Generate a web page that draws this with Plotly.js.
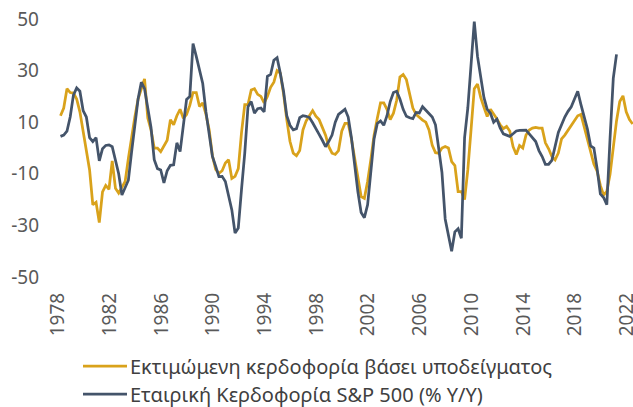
<!DOCTYPE html>
<html>
<head>
<meta charset="utf-8">
<script src="https://cdn.plot.ly/plotly-3.0.1.min.js"></script>
<style>
html,body{margin:0;padding:0;background:#fff;}
#chart{width:633px;height:407px;}
</style>
</head>
<body>
<div id="chart"></div>
<script>
// Quarterly series 1978Q1 onward, in plotting order
const seriesNames = [
  "Εκτιμώμενη κερδοφορία βάσει υποδείγματος",
  "Εταιρική Κερδοφορία S&P 500 (% Y/Y)"
];
const seriesColors = ['#D9A21B', '#44546A'];
const modelEstimate = [
  12.5,15.5,23,21.5,21.3,19,14,6,-1,-8.5,
  -22,-21,-28.9,-17,-14.5,-16,-5,-15.6,-17.5,-15,
  -13,-4,5,12,19,23,26.8,11.6,7,0,
  0,-1.4,0.8,3,11,9,12.5,15,11.5,13,
  16.5,21.5,21.5,16.1,17.5,13,7,-3,-8.3,-9.8,
  -8.8,-5.8,-4.5,-11.8,-11,-8,6,16.8,16.8,22.5,
  23,20.8,20,17.5,20,23.5,25.5,30,29,21,
  11,2.5,-2,-3,-1,7,10.5,12.5,14.5,12.3,
  11,8,5,0.5,-2,-2.5,-1,6.5,9.5,9.5,
  3.5,-4,-12,-18.8,-19.5,-13,-4.5,5,11.5,17.5,
  17.5,15,11,13.5,18.5,27.5,28.5,26.5,21,15.5,
  13,11.7,10.8,10,7,1,-1.8,-2,0,0.6,
  0,-5.3,-6.8,-16.9,-16.9,-20,-8.5,7,23,24.8,
  19.5,15.8,12.2,15,13.2,11.3,9,7.5,8.4,6.5,
  0.5,-2.5,1,0,5,7,7.7,8,7.7,7.7,
  2,-0.3,-3.3,-4.6,-2,3.5,5,7,8.8,10.5,
  12.5,13,8,3,-1,-6.2,-9,-14.5,-18.2,-16.8,
  -10.2,0,10.5,18,20.2,14,11,9.3
];
const sp500Earnings = [
  4.5,5,6.5,12,20.5,23.3,22,14.5,12,4,
  2.5,4,-5,-0.3,1,1.2,0.5,-4.5,-10,-18.2,
  -15.5,-12.5,-1.5,10,19,25.5,23,15.5,8,-4.5,
  -8,-8.5,-13.5,-8.8,-6.7,-6.5,2,-1.4,7.8,18.8,
  20,40.5,35.5,30,25,14,4.5,-3.3,-7,-11.1,
  -11,-13,-18.5,-24,-33,-31,-16,-2,16,18,
  13.5,15.2,15.5,14,27.8,28.5,34,35,29,22,
  12.5,8.8,7,7.5,11.8,12.5,12.3,11.8,9.8,7.8,
  5.3,3,0.5,2.6,5,10,13,14,15,12,
  4,-6.5,-17,-25,-27,-22,-8,3.5,9.5,10.5,
  8.8,12.5,18,21.5,22,19,15,12.3,11.7,11.4,
  13.8,13.6,16,14.6,13.2,12,9,0,-9.5,-27.5,
  -34,-40,-32.5,-31.3,-35,4,15.5,32,49,35.5,
  28,19.5,15,13.5,10,11.2,7.8,5.5,5,4.5,
  5.5,6.6,6.8,6.8,6.9,5.5,4,2.5,-1,-3.3,
  -6.3,-6.3,-4.8,1,6,9,12,14.2,16,19,
  22,16.8,12,7.3,0.8,0,-8,-17.8,-19.2,-22,
  3.8,27,36.3
];
const xTickLabels = ["1978","1982","1986","1990","1994","1998","2002","2006","2010","2014","2018","2022"];
const yTickValues = [-50,-30,-10,10,30,50];

const firstYear = 1978, perYear = 4, labelShift = -0.8;
const idx = n => Array.from({length:n},(_,i)=>i);
const tickPos = xTickLabels.map(t => (Number(t) - firstYear) * perYear + labelShift);

const W = 633, H = 407;
const M = {l:40, r:0, t:19, b:130};
const font = "'Noto Sans', 'DejaVu Sans', sans-serif";

// pixel -> paper helpers for the hand-drawn legend
const pw = W - M.l - M.r, ph = H - M.t - M.b;
const px = p => (p - M.l) / pw;
const py = p => (H - M.b - p) / ph;

const traces = [
  {x: idx(modelEstimate.length), y: modelEstimate, name: seriesNames[0], type:'scatter', mode:'lines',
   line:{color:seriesColors[0], width:2.75}},
  {x: idx(sp500Earnings.length), y: sp500Earnings, name: seriesNames[1], type:'scatter', mode:'lines',
   line:{color:seriesColors[1], width:2.75}}
];

const legendRows = [366, 394];
const shapes = seriesNames.map((_,k)=>({type:'line', xref:'paper', yref:'paper',
  x0:px(83), x1:px(127), y0:py(legendRows[k]), y1:py(legendRows[k]),
  line:{color:seriesColors[k], width:2.75}}));
const annotations = seriesNames.map((n,k)=>({xref:'paper', yref:'paper', x:px(128), y:py(legendRows[k]),
  xanchor:'left', yanchor:'middle', showarrow:false, text:n,
  font:{family:font, size:20, color:'#404040'}}));

const layout = {
  width:W, height:H,
  margin:Object.assign({autoexpand:false}, M),
  paper_bgcolor:'#ffffff', plot_bgcolor:'#ffffff',
  font:{family:font, size:19, color:'#595959'},
  showlegend:false,
  shapes: shapes, annotations: annotations,
  xaxis:{range:[-6.34,177.1], showgrid:false, zeroline:false, showline:false, ticks:'',
         tickmode:'array', tickvals:tickPos, ticktext:xTickLabels, tickangle:-90,
         ticklabelstandoff:11, ticklabeloverflow:'allow', fixedrange:true},
  yaxis:{range:[-50,50], showgrid:false, zeroline:false, showline:false, ticks:'',
         tickmode:'array', tickvals:yTickValues, ticktext:yTickValues.map(String), fixedrange:true}
};

Plotly.newPlot('chart', traces, layout, {displayModeBar:false, staticPlot:true});
</script>
</body>
</html>
